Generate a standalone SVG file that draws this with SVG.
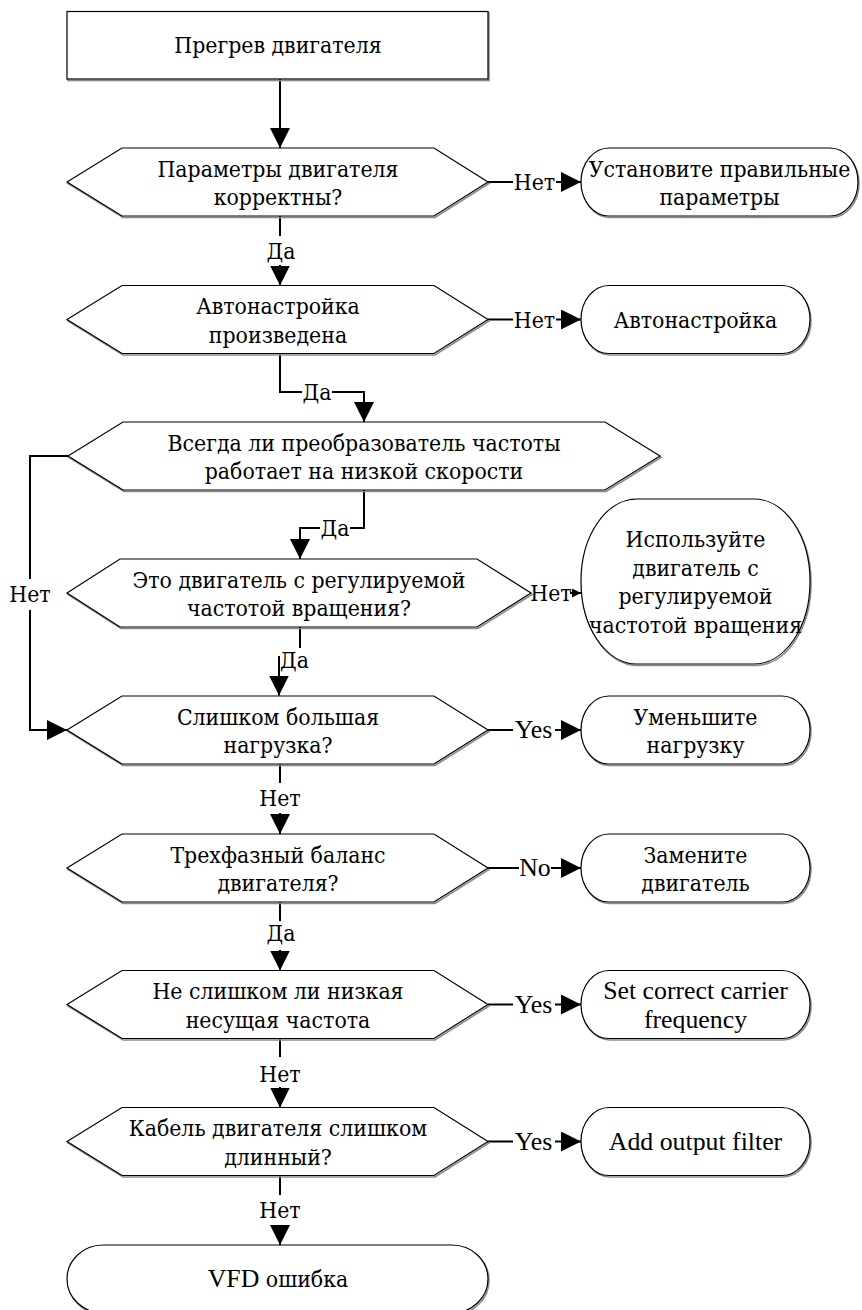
<svg xmlns="http://www.w3.org/2000/svg" xmlns:xlink="http://www.w3.org/1999/xlink" width="862" height="1310" viewBox="0 0 862 1310">
  <style>
    .shape { fill: #ffffff; stroke: #000000; stroke-width: 1.2; }
    .shadow { fill: none; stroke: #8a8a8a; stroke-width: 1.6; }
    .conn { fill: none; stroke: #000000; stroke-width: 2; }
    .t { font-family: "DejaVu Serif", serif; font-stretch: condensed; font-size: 22.8px; text-anchor: middle; fill: #000000; }
    .lat { font-family: "Liberation Serif", serif; font-size: 25.8px; text-anchor: middle; fill: #000000; }
    .cyr { font-family: "DejaVu Serif", serif; font-stretch: condensed; font-size: 22.8px; }
  </style>
  <defs>
    <marker id="arrow" markerUnits="userSpaceOnUse" markerWidth="21" markerHeight="20" refX="20" refY="10" orient="auto">
      <path d="M0,0 L20,10 L0,20 Z" fill="#000000"/>
    </marker>
    <marker id="arrowSmall" markerUnits="userSpaceOnUse" markerWidth="10" markerHeight="10" refX="9" refY="4.5" orient="auto">
      <path d="M0,0 L9,4.5 L0,9 Z" fill="#000000"/>
    </marker>
  </defs>

  <rect width="862" height="1310" fill="#ffffff"/>

  <!-- connectors -->
  <g id="connectors">
    <path class="conn" d="M280,79 V148" marker-end="url(#arrow)"/>

    <path class="conn" d="M488,182 H513"/>
    <path class="conn" d="M556,182 H581" marker-end="url(#arrow)"/>
    <text class="t" x="534.5" y="190">Нет</text>

    <path class="conn" d="M280,216 V236"/>
    <path class="conn" d="M280,265 V285.5" marker-end="url(#arrow)"/>
    <text class="t" x="281" y="259">Да</text>

    <path class="conn" d="M488,319.5 H513"/>
    <path class="conn" d="M556,319.5 H581" marker-end="url(#arrow)"/>
    <text class="t" x="534.5" y="327.5">Нет</text>

    <path class="conn" d="M280,353.5 V392 H302"/>
    <path class="conn" d="M332,392 H364 V422" marker-end="url(#arrow)"/>
    <text class="t" x="317" y="400">Да</text>

    <path class="conn" d="M364,490 V528 H350"/>
    <path class="conn" d="M320,528 H300 V559" marker-end="url(#arrow)"/>
    <text class="t" x="335" y="536">Да</text>

    <path class="conn" d="M68,456 H30 V579"/>
    <path class="conn" d="M30,610 V730 H67" marker-end="url(#arrow)"/>
    <text class="t" x="30" y="602">Нет</text>

    <path class="conn" d="M570,593 H581" marker-end="url(#arrowSmall)"/>
    <text class="t" x="551" y="601">Нет</text>

    <path class="conn" d="M300,627 V648"/>
    <path class="conn" d="M279,656 V695.5" marker-end="url(#arrow)"/>
    <text class="t" x="294.5" y="668">Да</text>

    <path class="conn" d="M488,730 H513"/>
    <path class="conn" d="M555,730 H581" marker-end="url(#arrow)"/>
    <text class="lat" x="533.5" y="738">Yes</text>

    <path class="conn" d="M280,764 V783"/>
    <path class="conn" d="M280,813 V834" marker-end="url(#arrow)"/>
    <text class="t" x="280" y="806">Нет</text>

    <path class="conn" d="M488,868 H519"/>
    <path class="conn" d="M551,868 H581" marker-end="url(#arrow)"/>
    <text class="lat" x="535" y="876">No</text>

    <path class="conn" d="M280,902 V921"/>
    <path class="conn" d="M280,950 V970.5" marker-end="url(#arrow)"/>
    <text class="t" x="281" y="941">Да</text>

    <path class="conn" d="M488,1004.5 H513"/>
    <path class="conn" d="M555,1004.5 H581" marker-end="url(#arrow)"/>
    <text class="lat" x="533.5" y="1012.5">Yes</text>

    <path class="conn" d="M280,1038.5 V1057"/>
    <path class="conn" d="M280,1087 V1107.5" marker-end="url(#arrow)"/>
    <text class="t" x="280" y="1081.5">Нет</text>

    <path class="conn" d="M488,1141.5 H513"/>
    <path class="conn" d="M555,1141.5 H581" marker-end="url(#arrow)"/>
    <text class="lat" x="533.5" y="1149.5">Yes</text>

    <path class="conn" d="M280,1175.5 V1195"/>
    <path class="conn" d="M280,1225 V1245" marker-end="url(#arrow)"/>
    <text class="t" x="280" y="1218">Нет</text>
  </g>

  <!-- start -->
  <g id="start">
    <rect class="shadow" x="68" y="13" width="421" height="67.5"/>
    <rect class="shape" x="67" y="11.5" width="421" height="67.5"/>
    <text class="t" x="278" y="53">Прегрев двигателя</text>
  </g>

  <!-- decisions and actions -->
  <g id="check-params">
    <polygon class="shadow" points="68,183.5 123,149.5 435,149.5 489,183.5 435,217.5 123,217.5"/>
    <polygon class="shape" points="67,182 122,148 434,148 488,182 434,216 122,216"/>
    <text class="t" x="278" y="176.5">Параметры двигателя</text>
    <text class="t" x="278" y="205">корректны?</text>
  </g>
  <g id="fix-params">
    <rect class="shadow" x="582" y="149.5" width="277" height="68" rx="28" ry="34"/>
    <rect class="shape" x="581" y="148" width="277" height="68" rx="28" ry="34"/>
    <text class="t" x="719.5" y="176.5">Установите правильные</text>
    <text class="t" x="719.5" y="205">параметры</text>
  </g>

  <g id="check-autotune">
    <polygon class="shadow" points="68,321 123,287 435,287 489,321 435,355 123,355"/>
    <polygon class="shape" points="67,319.5 122,285.5 434,285.5 488,319.5 434,353.5 122,353.5"/>
    <text class="t" x="278" y="314">Автонастройка</text>
    <text class="t" x="278" y="342.5">произведена</text>
  </g>
  <g id="autotune">
    <rect class="shadow" x="582" y="287" width="229" height="68" rx="28" ry="34"/>
    <rect class="shape" x="581" y="285.5" width="229" height="68" rx="28" ry="34"/>
    <text class="t" x="695.5" y="327.5">Автонастройка</text>
  </g>

  <g id="check-low-speed">
    <polygon class="shadow" points="69,457.5 124,423.5 606,423.5 661,457.5 606,491.5 124,491.5"/>
    <polygon class="shape" points="68,456 123,422 605,422 660,456 605,490 123,490"/>
    <text class="t" x="364" y="450.5">Всегда ли преобразователь частоты</text>
    <text class="t" x="364" y="479">работает на низкой скорости</text>
  </g>

  <g id="check-motor-type">
    <polygon class="shadow" points="68,594.5 121,560.5 478,560.5 532,594.5 478,628.5 121,628.5"/>
    <polygon class="shape" points="67,593 120,559 477,559 531,593 477,627 120,627"/>
    <text class="t" x="299" y="587.5">Это двигатель с регулируемой</text>
    <text class="t" x="299" y="616">частотой вращения?</text>
  </g>
  <g id="use-vf-motor">
    <rect class="shadow" x="582" y="500.5" width="229" height="165" rx="56" ry="82"/>
    <rect class="shape" x="581" y="499" width="229" height="165" rx="56" ry="82"/>
    <text class="t" x="695.5" y="547">Используйте</text>
    <text class="t" x="695.5" y="575.5">двигатель с</text>
    <text class="t" x="695.5" y="604">регулируемой</text>
    <text class="t" x="695.5" y="632.5">частотой вращения</text>
  </g>

  <g id="check-load">
    <polygon class="shadow" points="68,731.5 123,697.5 435,697.5 489,731.5 435,765.5 123,765.5"/>
    <polygon class="shape" points="67,730 122,696 434,696 488,730 434,764 122,764"/>
    <text class="t" x="278" y="724.5">Слишком большая</text>
    <text class="t" x="278" y="753">нагрузка?</text>
  </g>
  <g id="reduce-load">
    <rect class="shadow" x="582" y="697.5" width="229" height="68" rx="28" ry="34"/>
    <rect class="shape" x="581" y="696" width="229" height="68" rx="28" ry="34"/>
    <text class="t" x="695.5" y="724.5">Уменьшите</text>
    <text class="t" x="695.5" y="753">нагрузку</text>
  </g>

  <g id="check-phase-balance">
    <polygon class="shadow" points="68,869.5 123,835.5 435,835.5 489,869.5 435,903.5 123,903.5"/>
    <polygon class="shape" points="67,868 122,834 434,834 488,868 434,902 122,902"/>
    <text class="t" x="278" y="862.5">Трехфазный баланс</text>
    <text class="t" x="278" y="891">двигателя?</text>
  </g>
  <g id="replace-motor">
    <rect class="shadow" x="582" y="835.5" width="229" height="68" rx="28" ry="34"/>
    <rect class="shape" x="581" y="834" width="229" height="68" rx="28" ry="34"/>
    <text class="t" x="695.5" y="862.5">Замените</text>
    <text class="t" x="695.5" y="891">двигатель</text>
  </g>

  <g id="check-carrier">
    <polygon class="shadow" points="68,1006 123,972 435,972 489,1006 435,1040 123,1040"/>
    <polygon class="shape" points="67,1004.5 122,970.5 434,970.5 488,1004.5 434,1038.5 122,1038.5"/>
    <text class="t" x="278" y="999">Не слишком ли низкая</text>
    <text class="t" x="278" y="1027.5">несущая частота</text>
  </g>
  <g id="set-carrier">
    <rect class="shadow" x="582" y="972" width="229" height="68" rx="28" ry="34"/>
    <rect class="shape" x="581" y="970.5" width="229" height="68" rx="28" ry="34"/>
    <text class="lat" x="695.5" y="999">Set correct carrier</text>
    <text class="lat" x="695.5" y="1027.5">frequency</text>
  </g>

  <g id="check-cable">
    <polygon class="shadow" points="68,1143 123,1109 435,1109 489,1143 435,1177 123,1177"/>
    <polygon class="shape" points="67,1141.5 122,1107.5 434,1107.5 488,1141.5 434,1175.5 122,1175.5"/>
    <text class="t" x="278" y="1136">Кабель двигателя слишком</text>
    <text class="t" x="278" y="1164.5">длинный?</text>
  </g>
  <g id="output-filter">
    <rect class="shadow" x="582" y="1109" width="229" height="68" rx="28" ry="34"/>
    <rect class="shape" x="581" y="1107.5" width="229" height="68" rx="28" ry="34"/>
    <text class="lat" x="695.5" y="1149.5">Add output filter</text>
  </g>

  <g id="vfd-fault">
    <rect class="shadow" x="68" y="1246.5" width="421" height="68" rx="36" ry="34"/>
    <rect class="shape" x="67" y="1245" width="421" height="68" rx="36" ry="34"/>
    <text class="lat" x="278" y="1287">VFD <tspan class="cyr">ошибка</tspan></text>
  </g>
</svg>
